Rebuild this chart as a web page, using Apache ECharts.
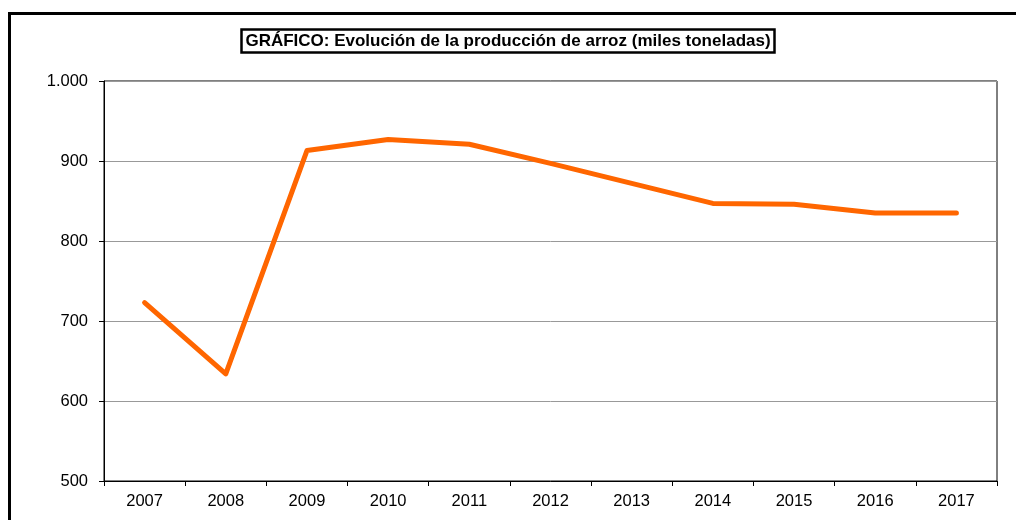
<!DOCTYPE html>
<html>
<head>
<meta charset="utf-8" />
<title>Producción de arroz</title>
<script src="https://cdn.jsdelivr.net/npm/echarts@6/dist/echarts.min.js"></script>
<style>
  html, body { margin: 0; padding: 0; background: #fff; }
  #chart { width: 1016px; height: 520px; }
</style>
</head>
<body>
<div id="chart"></div>
<script>
// datos
var years = ['2007', '2008', '2009', '2010', '2011', '2012', '2013', '2014', '2015', '2016', '2017'];
var production = [723, 634, 913, 927, 921, 897, 872, 847, 846, 835, 835];
var yMin = 500, yMax = 1000, yStep = 100;

var chart = echarts.init(document.getElementById('chart'));

var option = {
  animation: false,
  backgroundColor: '#fff',
  textStyle: { fontFamily: 'Liberation Sans, Arial, sans-serif' },
  graphic: [{
    type: 'rect',
    shape: { x: 9.5, y: 13.5, width: 1100, height: 600 },
    style: { fill: 'none', stroke: '#000', lineWidth: 3 },
    z: 100
  }],
  title: {
    text: 'GRÁFICO: Evolución de la producción de arroz (miles toneladas)',
    left: 'center',
    top: 29,
    padding: [4, 4, 3, 4],
    borderColor: '#000',
    borderWidth: 2.5,
    textStyle: { fontSize: 17, fontWeight: 'bold', color: '#000', fontFamily: 'Liberation Sans, Arial, sans-serif' }
  },
  grid: {
    left: 104, right: 19, top: 81, bottom: 39,
    show: true, borderColor: '#000', borderWidth: 1, backgroundColor: '#fff'
  },
  xAxis: {
    type: 'category',
    data: years,
    boundaryGap: true,
    axisLine: { lineStyle: { color: '#000', width: 1 } },
    axisTick: { show: true, length: 5, lineStyle: { color: '#000' } },
    axisLabel: { color: '#000', fontSize: 16.5, margin: 12 }
  },
  yAxis: {
    type: 'value',
    min: yMin, max: yMax, interval: yStep,
    axisLine: { show: true, lineStyle: { color: '#000', width: 1 } },
    axisTick: { show: true, length: 5, lineStyle: { color: '#000' } },
    axisLabel: {
      color: '#000', fontSize: 16.5, margin: 16,
      formatter: function (v) { return v >= 1000 ? (v / 1000) + '.' + String(v % 1000).padStart(3, '0') : String(v); }
    },
    splitLine: { show: true, lineStyle: { color: '#999', width: 1 } }
  },
  series: [{
    type: 'line',
    data: production,
    showSymbol: false,
    symbol: 'none',
    lineStyle: { color: '#FF6600', width: 5, cap: 'round', join: 'round' },
    itemStyle: { color: '#FF6600' }
  }]
};

chart.setOption(option);
</script>
</body>
</html>
